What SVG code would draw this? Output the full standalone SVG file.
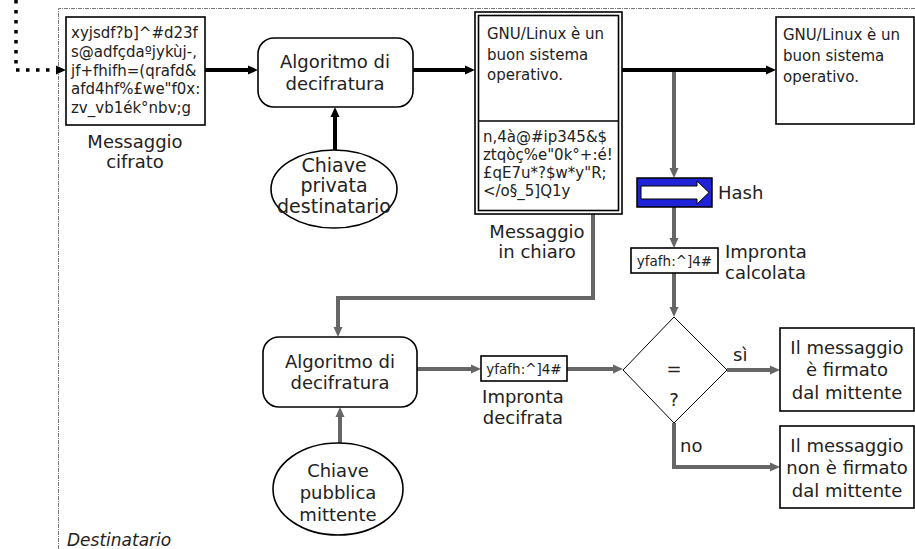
<svg xmlns="http://www.w3.org/2000/svg" width="915" height="549" viewBox="0 0 915 549">
  <style>
    text { font-family: "DejaVu Sans", "Liberation Sans", sans-serif; fill: #222; }
    .mono { font-size: 15px; }
    .lbl { font-size: 18px; text-anchor: middle; }
    .key { font-size: 19px; text-anchor: middle; }
    .tiny { font-size: 13.5px; text-anchor: middle; }
    .box { fill: #fff; stroke: #000; stroke-width: 1.6; }
    .blk { fill: none; stroke: #000; stroke-width: 4; }
    .gry { fill: none; stroke: #666; stroke-width: 4; }
    .dot { fill: none; stroke: #000; stroke-width: 3.5; stroke-dasharray: 3.5 6.5; }
    .frame { fill: none; stroke: #777; stroke-width: 1; stroke-dasharray: 4 1 1 1; }
  </style>
  <defs>
    <marker id="ab" viewBox="0 0 10 10" markerWidth="10" markerHeight="10" refX="0" refY="5" orient="auto" markerUnits="userSpaceOnUse">
      <path d="M0,0.5 L10,5 L0,9.5 z" fill="#000"/>
    </marker>
    <marker id="ag" viewBox="0 0 10 10" markerWidth="10" markerHeight="10" refX="0" refY="5" orient="auto" markerUnits="userSpaceOnUse">
      <path d="M0,0.5 L10,5 L0,9.5 z" fill="#666"/>
    </marker>
  </defs>

  <rect width="915" height="549" fill="#fff"/>

  <!-- receiver boundary -->
  <g id="destinatario">
    <path class="frame" d="M58.5,549 V8.5 H915"/>
    <text x="67" y="546" font-size="17" font-style="italic">Destinatario</text>
  </g>

  <!-- connectors -->
  <g id="connectors">
    <path class="dot" d="M16,0 V70 H56" marker-end="url(#ab)"/>
    <path class="blk" d="M205,70 H248" marker-end="url(#ab)"/>
    <path class="blk" d="M413,70 H465" marker-end="url(#ab)"/>
    <path class="blk" d="M335,151 V117" marker-end="url(#ab)"/>
    <path class="blk" d="M622,70 H766" marker-end="url(#ab)"/>
    <path class="gry" d="M674,72 V168" marker-end="url(#ag)"/>
    <path class="gry" d="M674,207 V238" marker-end="url(#ag)"/>
    <path class="gry" d="M674,273 V307" marker-end="url(#ag)"/>
    <path class="gry" d="M593,214 V298 H338 V327" marker-end="url(#ag)"/>
    <path class="gry" d="M340,443 V417" marker-end="url(#ag)"/>
    <path class="gry" d="M417,369 H471" marker-end="url(#ag)"/>
    <path class="gry" d="M567,369 H613" marker-end="url(#ag)"/>
    <path class="gry" d="M727,370 H770" marker-end="url(#ag)"/>
    <path class="gry" d="M674,423 V467 H770" marker-end="url(#ag)"/>
  </g>

  <!-- encrypted message -->
  <g id="cifrato">
    <rect class="box" x="66" y="17" width="139" height="108"/>
    <text class="mono" x="71" y="38">xyjsdf?b]^#d23f</text>
    <text class="mono" x="71" y="57">s@adfçdaºjykùj-,</text>
    <text class="mono" x="71" y="76">jf+fhifh=(qrafd&amp;</text>
    <text class="mono" x="71" y="94">afd4hf%£we"f0x:</text>
    <text class="mono" x="71" y="113">zv_vb1ék°nbv;g</text>
    <text class="lbl" x="135" y="148">Messaggio</text>
    <text class="lbl" x="135" y="168">cifrato</text>
  </g>

  <!-- decryption with private key -->
  <g id="alg1">
    <rect class="box" x="258" y="38" width="155" height="69" rx="16"/>
    <text class="lbl" x="335" y="68">Algoritmo di</text>
    <text class="lbl" x="335" y="90">decifratura</text>
  </g>
  <g id="chiave-privata">
    <ellipse class="box" cx="334" cy="189" rx="63" ry="39"/>
    <text class="key" x="334" y="172">Chiave</text>
    <text class="key" x="334" y="192">privata</text>
    <text class="key" x="334" y="213">destinatario</text>
  </g>

  <!-- plain message with signature -->
  <g id="chiaro">
    <rect class="box" x="475" y="12" width="147" height="202"/>
    <rect class="box" x="478.5" y="15.5" width="140" height="195"/>
    <line x1="478.5" y1="121" x2="618.5" y2="121" stroke="#000" stroke-width="1.5"/>
    <text class="mono" x="487" y="39">GNU/Linux è un</text>
    <text class="mono" x="487" y="60">buon sistema</text>
    <text class="mono" x="487" y="80">operativo.</text>
    <text class="mono" x="483" y="142">n,4à@#ip345&amp;$</text>
    <text class="mono" x="483" y="160">ztqòç%e"0k°+:é!</text>
    <text class="mono" x="483" y="178">£qE7u*?$w*y"R;</text>
    <text class="mono" x="483" y="196">&lt;/o§_5]Q1y</text>
    <text class="lbl" x="537" y="238">Messaggio</text>
    <text class="lbl" x="537" y="258">in chiaro</text>
  </g>

  <!-- message delivered -->
  <g id="messaggio">
    <rect class="box" x="776" y="17" width="138" height="107"/>
    <text class="mono" x="783" y="40">GNU/Linux è un</text>
    <text class="mono" x="783" y="61">buon sistema</text>
    <text class="mono" x="783" y="82">operativo.</text>
  </g>

  <!-- hash function -->
  <g id="hash">
    <rect x="637" y="178" width="75" height="29" fill="#1f22d6" stroke="#000" stroke-width="1.5"/>
    <path d="M641,186 H697 V181 L709,192.5 L697,204 V199 H641 z" fill="#fff" stroke="#000" stroke-width="1"/>
    <text x="718" y="199" font-size="18">Hash</text>
  </g>

  <g id="impronta-calcolata">
    <rect class="box" x="631" y="248" width="87" height="25"/>
    <text class="tiny" x="674.5" y="265.5">yfafh:^]4#</text>
    <text x="725" y="258" font-size="18">Impronta</text>
    <text x="725" y="279" font-size="18">calcolata</text>
  </g>

  <!-- decryption with public key -->
  <g id="alg2">
    <rect class="box" x="263" y="337" width="154" height="70" rx="16"/>
    <text class="lbl" x="340" y="368">Algoritmo di</text>
    <text class="lbl" x="340" y="389">decifratura</text>
  </g>
  <g id="chiave-pubblica">
    <ellipse class="box" cx="338" cy="489" rx="65" ry="46"/>
    <text class="lbl" x="338" y="477">Chiave</text>
    <text class="lbl" x="338" y="499">pubblica</text>
    <text class="lbl" x="338" y="521">mittente</text>
  </g>

  <g id="impronta-decifrata">
    <rect class="box" x="481" y="356" width="86" height="25"/>
    <text class="tiny" x="524" y="373.5">yfafh:^]4#</text>
    <text class="lbl" x="523" y="403">Impronta</text>
    <text class="lbl" x="523" y="424">decifrata</text>
  </g>

  <!-- comparison -->
  <g id="confronto">
    <path d="M674,317 L727,370 L674,423 L623,370 z" fill="#fff" stroke="#000" stroke-width="1"/>
    <text class="lbl" x="674" y="375">=</text>
    <text class="lbl" x="674" y="406">?</text>
    <text x="733" y="361" font-size="18">sì</text>
    <text x="680" y="452" font-size="18">no</text>
  </g>

  <g id="firmato">
    <rect class="box" x="780" y="328" width="134" height="83"/>
    <text class="lbl" x="847" y="354">Il messaggio</text>
    <text class="lbl" x="847" y="376">è firmato</text>
    <text class="lbl" x="847" y="399">dal mittente</text>
  </g>
  <g id="non-firmato">
    <rect class="box" x="780" y="426" width="134" height="82"/>
    <text class="lbl" x="847" y="452">Il messaggio</text>
    <text class="lbl" x="847" y="474">non è firmato</text>
    <text class="lbl" x="847" y="497">dal mittente</text>
  </g>
</svg>
